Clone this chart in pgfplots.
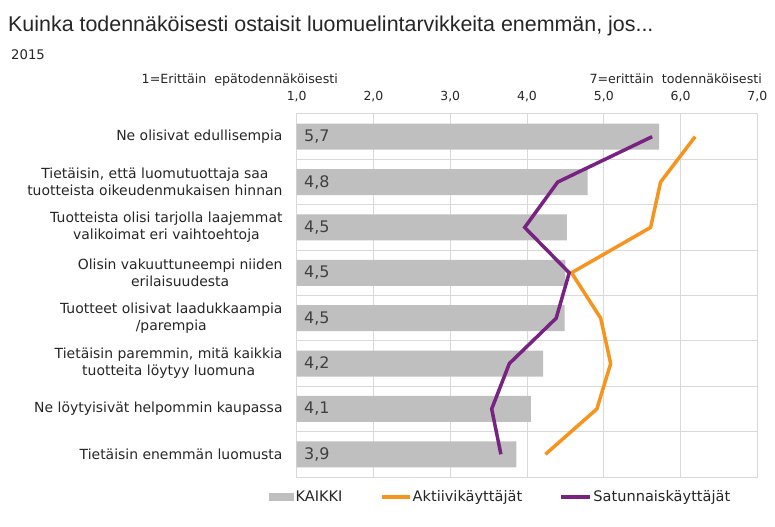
\documentclass[border=0pt]{standalone}
\usepackage{fontspec}
\setmainfont{DejaVu Sans}
\newfontfamily\titlefont{Liberation Sans}
\usepackage{pgfplots}
\pgfplotsset{compat=1.18}
\definecolor{barg}{RGB}{191,191,191}
\definecolor{org}{RGB}{247,148,30}
\definecolor{pur}{RGB}{120,35,130}
\definecolor{gridc}{RGB}{217,217,217}
\definecolor{txt}{RGB}{38,38,38}
\definecolor{vtxt}{RGB}{64,64,64}
\begin{document}
\begin{tikzpicture}[x=1bp,y=1bp]
\path[use as bounding box] (0,0) rectangle (775,527);
\node[anchor=base west, inner sep=0, text=txt, font=\titlefont\fontsize{21.5}{24}\selectfont] at (8,527-32) {Kuinka todennäköisesti ostaisit luomuelintarvikkeita enemmän, jos...};
\node[anchor=base west, inner sep=0, text=txt, font=\fontsize{13.3}{15}\selectfont] at (11,527-60) {2015};
\node[anchor=base east, inner sep=0, text=txt, font=\fontsize{12.7}{14}\selectfont] at (338,527-84) {1=Erittäin\ \ epätodennäköisesti};
\node[anchor=base east, inner sep=0, text=txt, font=\fontsize{12.7}{14}\selectfont] at (762,527-84) {7=erittäin\ \ todennäköisesti};
\begin{axis}[
  at={(296.7bp,50bp)}, anchor=south west,
  scale only axis, width=460.6bp, height=363bp,
  xmin=1, xmax=7, ymin=-0.5, ymax=7.5, y dir=reverse,
  xtick={1,...,7}, xticklabel pos=upper,
  /pgf/number format/.cd, fixed, fixed zerofill, precision=1, use comma, assume math mode=true,
  /pgfplots/.cd,
  xticklabel style={font=\fontsize{12.5}{14}\selectfont, text=txt, inner sep=0pt, anchor=base, yshift=13bp},
  ytick={0,...,7},
  yticklabels={{Ne olisivat edullisempia},
    {Tietäisin, että luomutuottaja saa\\tuotteista oikeudenmukaisen hinnan},
    {Tuotteista olisi tarjolla laajemmat\\valikoimat eri vaihtoehtoja},
    {Olisin vakuuttuneempi niiden\\erilaisuudesta},
    {Tuotteet olisivat laadukkaampia\\/parempia},
    {Tietäisin paremmin, mitä kaikkia\\tuotteita löytyy luomuna},
    {Ne löytyisivät helpommin kaupassa},
    {Tietäisin enemmän luomusta}},
  yticklabel style={font=\fontsize{14}{17}\selectfont, text=txt, align=center, inner sep=0pt, xshift=-14bp},
  minor ytick={0.5,1.5,...,6.5},
  xmajorgrids, yminorgrids,
  grid style={gridc, line width=1bp},
  minor grid style={gridc, line width=1bp},
  axis line style={gridc, line width=1bp},
  major tick length=0pt, minor tick length=0pt,
  clip=true,
  legend style={at={(-0.067,-0.055)}, anchor=west, draw=none, fill=none,
    legend columns=3, font=\fontsize{14.6}{16}\selectfont, text=txt,
    /tikz/every even column/.append style={column sep=36bp},
    nodes={inner sep=1.5bp}},
  legend cell align=left,
]
\addplot[xbar, bar width=26bp, fill=barg, draw=none, bar shift=0pt,
  legend image code/.code={\fill[barg] (0bp,-4bp) rectangle (25bp,4bp);}]
  coordinates {(5.72,0) (4.79,1) (4.52,2) (4.50,3) (4.49,4) (4.21,5) (4.05,6) (3.86,7)};
\addlegendentry{KAIKKI}
\addplot[org, line width=3.5bp, mark=none,
  legend image code/.code={\draw[org, line width=3.3bp] (0bp,0bp) -- (28bp,0bp);}]
  coordinates {(6.19,0) (5.74,1) (5.61,2) (4.58,3) (4.96,4) (5.09,5) (4.91,6) (4.24,7)};
\addlegendentry{Aktiivikäyttäjät}
\addplot[pur, line width=3.5bp, mark=none,
  legend image code/.code={\draw[pur, line width=3.3bp] (0bp,0bp) -- (29bp,0bp);}]
  coordinates {(5.63,0) (4.40,1) (3.97,2) (4.55,3) (4.38,4) (3.77,5) (3.54,6) (3.66,7)};
\addlegendentry{Satunnaiskäyttäjät}
\addplot[draw=none, mark=none, forget plot, nodes near coords, point meta=explicit symbolic,
  nodes near coords style={anchor=west, font=\fontsize{16}{18}\selectfont, text=vtxt, inner sep=0pt, xshift=7.3bp}]
  coordinates {(1,0)[5,7] (1,1)[4,8] (1,2)[4,5] (1,3)[4,5] (1,4)[4,5] (1,5)[4,2] (1,6)[4,1] (1,7)[3,9]};
\end{axis}
\end{tikzpicture}
\end{document}
